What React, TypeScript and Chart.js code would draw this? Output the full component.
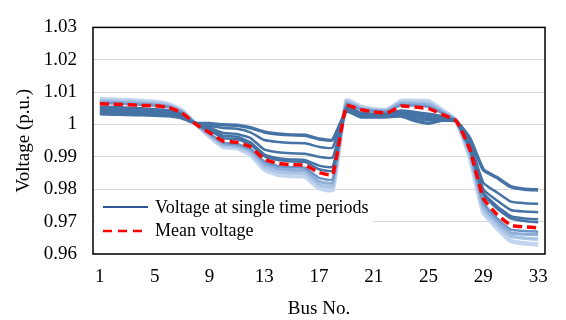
import React, { useEffect, useRef } from "react";
import { Chart, registerables } from "chart.js";

Chart.register(...registerables);

const busNumbers = [
  "1", "2", "3", "4", "5", "6", "7", "8", "9", "10", "11", "12", "13", "14", "15", "16", "17",
  "18", "19", "20", "21", "22", "23", "24", "25", "26", "27", "28", "29", "30", "31", "32", "33",
];
const shownBusTicks = ["1", "5", "9", "13", "17", "21", "25", "29", "33"];
const yMin = 0.96;
const yMax = 1.03;
const yStep = 0.01;

const period1 = [
  1.0033, 1.0032, 1.0031, 1.003, 1.0029, 1.0027, 1.002, 1.0004,
  1.0003, 0.9999, 0.9998, 0.999, 0.9977, 0.9971, 0.9968, 0.9967, 0.9955, 0.9953,
  1.0041, 1.0024, 1.0023, 1.0024, 1.0026, 1.0012, 1.0004, 1.0013, 1.0011,
  0.9958, 0.986, 0.9836, 0.9808, 0.98, 0.9798,
];
const period2 = [
  1.0039, 1.0038, 1.0037, 1.0035, 1.0034, 1.0031, 1.0023, 1.0004,
  0.9996, 0.9989, 0.9987, 0.9976, 0.9952, 0.9946, 0.9943, 0.9942, 0.9931, 0.9929,
  1.0045, 1.0028, 1.0026, 1.0027, 1.0031, 1.002, 1.0013, 1.0017, 1.0011,
  0.9945, 0.982, 0.979, 0.9762, 0.9757, 0.9755,
];
const period3 = [
  1.0043, 1.0042, 1.0041, 1.0039, 1.0038, 1.0035, 1.0026, 1.0003,
  0.999, 0.9974, 0.9971, 0.9958, 0.9923, 0.9914, 0.9911, 0.991, 0.99, 0.9898,
  1.0048, 1.0031, 1.0029, 1.003, 1.0035, 1.0027, 1.002, 1.002, 1.0011,
  0.9935, 0.98, 0.9765, 0.9736, 0.9731, 0.9729,
];
const period4 = [
  1.0049, 1.0048, 1.0046, 1.0044, 1.0043, 1.0039, 1.0029, 1.0003,
  0.9985, 0.9965, 0.9962, 0.9945, 0.9908, 0.9896, 0.9892, 0.989, 0.9873, 0.987,
  1.0051, 1.0034, 1.0031, 1.0032, 1.0039, 1.0033, 1.0026, 1.0022, 1.0011,
  0.993, 0.979, 0.9748, 0.9717, 0.971, 0.9707,
];
const period5 = [
  1.0055, 1.0054, 1.0052, 1.005, 1.0048, 1.0044, 1.0032, 1.0002,
  0.9982, 0.9958, 0.9955, 0.9938, 0.9902, 0.989, 0.9886, 0.9884, 0.9862, 0.9858,
  1.0054, 1.0037, 1.0033, 1.0034, 1.0043, 1.0039, 1.0033, 1.0025, 1.0011,
  0.9928, 0.9785, 0.974, 0.971, 0.9702, 0.9698,
];
const period6 = [
  1.0066, 1.0065, 1.0063, 1.0061, 1.0059, 1.0054, 1.0037, 1.0002,
  0.9972, 0.9944, 0.994, 0.9925, 0.9886, 0.9872, 0.9868, 0.9866, 0.9835, 0.9831,
  1.0062, 1.0047, 1.0041, 1.004, 1.006, 1.0058, 1.0055, 1.0035, 1.0012,
  0.992, 0.976, 0.971, 0.9675, 0.9671, 0.9669,
];
const period7 = [
  1.007, 1.0069, 1.0067, 1.0065, 1.0063, 1.0057, 1.0039, 1.0002,
  0.997, 0.994, 0.9936, 0.992, 0.9879, 0.9864, 0.986, 0.9858, 0.9824, 0.982,
  1.0066, 1.005, 1.0043, 1.0043, 1.0065, 1.0063, 1.0061, 1.0038, 1.0012,
  0.9915, 0.975, 0.97, 0.9665, 0.9661, 0.966,
];
const period8 = [
  1.0074, 1.0073, 1.0071, 1.0069, 1.0066, 1.006, 1.0041, 1.0002,
  0.9967, 0.9936, 0.9932, 0.9914, 0.987, 0.9855, 0.9851, 0.9849, 0.9814, 0.981,
  1.007, 1.0053, 1.0045, 1.0045, 1.0069, 1.0068, 1.0067, 1.0041, 1.0013,
  0.9908, 0.974, 0.969, 0.9655, 0.9649, 0.9646,
];
const period9 = [
  1.0078, 1.0077, 1.0075, 1.0073, 1.007, 1.0063, 1.0043, 1.0002,
  0.9964, 0.9931, 0.9927, 0.9907, 0.9861, 0.9845, 0.9841, 0.9839, 0.9803, 0.9799,
  1.0074, 1.0056, 1.0047, 1.0046, 1.0073, 1.0073, 1.0072, 1.0044, 1.0013,
  0.99, 0.9728, 0.968, 0.964, 0.9633, 0.9629,
];
const meanVoltage = [
  1.0064, 1.0063, 1.0061, 1.0059, 1.0058, 1.0053, 1.0036, 1.0001,
  0.9975, 0.9949, 0.9945, 0.9931, 0.9893, 0.988, 0.9876, 0.9874, 0.9852, 0.9846,
  1.0058, 1.0046, 1.0039, 1.0036, 1.0057, 1.0054, 1.0049, 1.0031, 1.0012,
  0.9925, 0.9772, 0.9722, 0.9689, 0.9684, 0.9681,
];

const legendSingle = "Voltage at single time periods";
const legendMean = "Mean voltage";
const xTitle = "Bus No.";
const yTitle = "Voltage (p.u.)";

const FONT = "'Liberation Serif', 'Times New Roman', serif";

const framePlugin = {
  id: "frame",
  beforeDatasetsDraw(chart: any) {
    const { ctx, chartArea } = chart;
    ctx.save();
    ctx.strokeStyle = "#000";
    ctx.lineWidth = 1.5;
    ctx.strokeRect(chartArea.left, chartArea.top, chartArea.right - chartArea.left, chartArea.bottom - chartArea.top);
    ctx.restore();
  },
};

const legendPlugin = {
  id: "innerLegend",
  afterDraw(chart: any) {
    const { ctx, chartArea } = chart;
    const x0 = chartArea.left + 2;
    const y0 = chartArea.bottom - 61;
    ctx.save();
    ctx.fillStyle = "#fff";
    ctx.fillRect(x0, y0, 278, 59);
    ctx.font = `18px ${FONT}`;
    ctx.textBaseline = "middle";
    ctx.fillStyle = "#000";
    ctx.strokeStyle = "#2F5597";
    ctx.lineWidth = 2;
    ctx.beginPath();
    ctx.moveTo(x0 + 8, y0 + 14);
    ctx.lineTo(x0 + 53, y0 + 14);
    ctx.stroke();
    ctx.fillText(legendSingle, x0 + 60, y0 + 15);
    ctx.strokeStyle = "#FF0000";
    ctx.lineWidth = 2.5;
    ctx.setLineDash([9, 6]);
    ctx.beginPath();
    ctx.moveTo(x0 + 8, y0 + 38);
    ctx.lineTo(x0 + 53, y0 + 38);
    ctx.stroke();
    ctx.setLineDash([]);
    ctx.fillText(legendMean, x0 + 60, y0 + 38);
    ctx.restore();
  },
};

export default function App() {
  const canvasRef = useRef<HTMLCanvasElement | null>(null);

  useEffect(() => {
    document.body.style.margin = "0";
    const canvas = canvasRef.current;
    if (!canvas) return;

    const dark = "#4573A5";
    const series = [
      { data: period9, color: "#C3D5EE", width: 4.5, order: 10 },
      { data: period8, color: "#A9C3E5", width: 3.5, order: 9 },
      { data: period7, color: "#8EAED9", width: 3, order: 8 },
      { data: period6, color: "#6C94C6", width: 2.5, order: 7 },
      { data: period5, color: dark, width: 2.5, order: 6 },
      { data: period4, color: dark, width: 2.5, order: 5 },
      { data: period3, color: dark, width: 2.5, order: 4 },
      { data: period2, color: dark, width: 2.5, order: 3 },
      { data: period1, color: dark, width: 3.5, order: 2 },
    ];

    const datasets: any[] = series.map((s, i) => ({
      label: `${legendSingle} ${i + 1}`,
      data: s.data,
      borderColor: s.color,
      backgroundColor: s.color,
      borderWidth: s.width,
      pointRadius: 0,
      tension: 0.15,
      fill: false,
      order: s.order,
    }));
    datasets.push({
      label: legendMean,
      data: meanVoltage,
      borderColor: "#FF0000",
      backgroundColor: "#FF0000",
      borderWidth: 3.5,
      borderDash: [9, 5],
      pointRadius: 0,
      tension: 0.15,
      fill: false,
      order: 0,
    });

    const chart = new Chart(canvas, {
      type: "line",
      data: { labels: busNumbers, datasets },
      options: {
        animation: false,
        responsive: false,
        maintainAspectRatio: false,
        layout: { padding: { left: 0, right: 21, top: 9, bottom: 0 } },
        plugins: {
          legend: { display: false },
          tooltip: { enabled: false },
        },
        scales: {
          x: {
            type: "category",
            offset: true,
            grid: { display: false, drawTicks: false },
            border: { display: false },
            afterFit(scale: any) {
              scale.height = 66;
            },
            ticks: {
              autoSkip: false,
              maxRotation: 0,
              padding: 12,
              color: "#000",
              font: { family: FONT, size: 19 },
              callback(_v: any, i: number) {
                const lab = busNumbers[i];
                return shownBusTicks.includes(lab) ? lab : "";
              },
            },
            title: {
              display: true,
              text: xTitle,
              color: "#000",
              font: { family: FONT, size: 19 },
              padding: { top: 0, bottom: 0 },
            },
          },
          y: {
            min: yMin,
            max: yMax,
            grid: { color: "#D9D9D9", lineWidth: 1, drawTicks: false },
            border: { display: false },
            afterFit(scale: any) {
              scale.width = 93;
            },
            ticks: {
              stepSize: yStep,
              padding: 16,
              color: "#000",
              font: { family: FONT, size: 19 },
              callback(v: any) {
                return String(Number(Number(v).toFixed(2)));
              },
            },
            title: {
              display: true,
              text: yTitle,
              color: "#000",
              font: { family: FONT, size: 19 },
              padding: { top: 13, bottom: 0 },
            },
          },
        },
      },
      plugins: [framePlugin, legendPlugin],
    });

    return () => chart.destroy();
  }, []);

  return (
    <div style={{ width: 566, height: 320, background: "#fff" }}>
      <canvas ref={canvasRef} width={566} height={320} />
    </div>
  );
}
